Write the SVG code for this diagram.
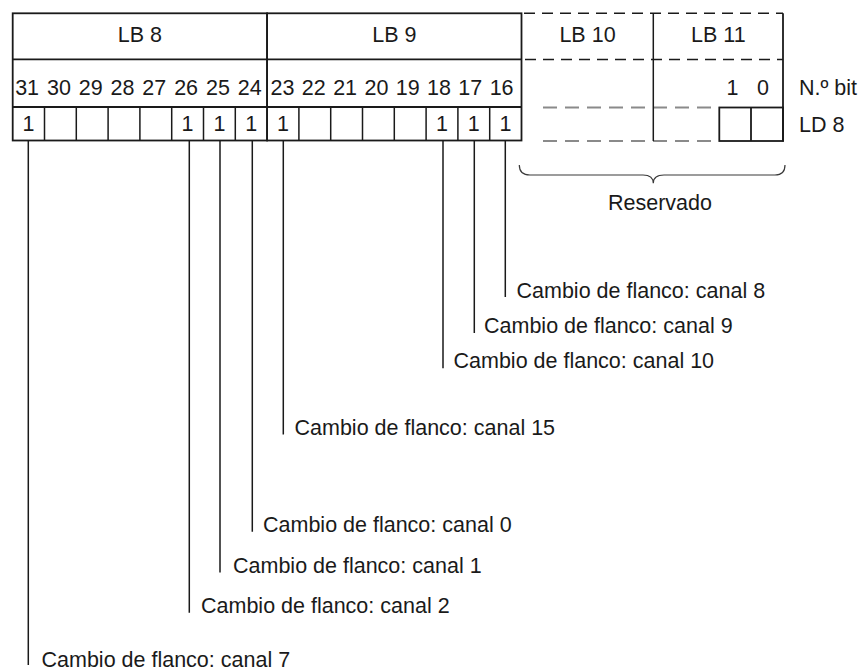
<svg xmlns="http://www.w3.org/2000/svg" width="859" height="671" viewBox="0 0 859 671">
<style>
text{font-family:"Liberation Sans",Arial,sans-serif;font-size:21.5px;fill:#1a1a1a}
.m{text-anchor:middle}
.ln{stroke:#1a1a1a;stroke-width:1.8;fill:none}
.cl{stroke:#1a1a1a;stroke-width:1.5;fill:none}
.dk{stroke:#1a1a1a;stroke-width:1.5;fill:none;stroke-dasharray:11 7}
.gr{stroke:#8a8a8a;stroke-width:1.8;fill:none;stroke-dasharray:14 8}
.ld{stroke:#1a1a1a;stroke-width:1.5;fill:none}
</style>
<rect width="859" height="671" fill="#fff"/>
<g id="lb8">
<rect class="ln" x="12.7" y="13.3" width="254.4" height="127.2"/>
<line class="ln" x1="12.7" y1="59.3" x2="267.1" y2="59.3"/>
<line class="ln" x1="12.7" y1="107" x2="267.1" y2="107"/>
<path class="cl" d="M44.5,107V140.5M76.3,107V140.5M108.1,107V140.5M139.9,107V140.5M171.7,107V140.5M203.5,107V140.5M235.3,107V140.5"/>
<text class="m" x="139.9" y="41.7">LB 8</text>
<text class="m" x="27.1" y="95">31</text>
<text class="m" x="58.9" y="95">30</text>
<text class="m" x="90.7" y="95">29</text>
<text class="m" x="122.5" y="95">28</text>
<text class="m" x="154.3" y="95">27</text>
<text class="m" x="186.1" y="95">26</text>
<text class="m" x="217.9" y="95">25</text>
<text class="m" x="249.7" y="95">24</text>
<text class="m" x="28.6" y="130.5">1</text>
<text class="m" x="187.6" y="130.5">1</text>
<text class="m" x="219.4" y="130.5">1</text>
<text class="m" x="251.2" y="130.5">1</text>
</g>
<g id="lb9">
<rect class="ln" x="267.1" y="13.3" width="254.4" height="127.2"/>
<line class="ln" x1="267.1" y1="59.3" x2="521.5" y2="59.3"/>
<line class="ln" x1="267.1" y1="107" x2="521.5" y2="107"/>
<path class="cl" d="M298.9,107V140.5M330.7,107V140.5M362.5,107V140.5M394.3,107V140.5M426.1,107V140.5M457.9,107V140.5M489.7,107V140.5"/>
<text class="m" x="394.3" y="41.7">LB 9</text>
<text class="m" x="282.5" y="95">23</text>
<text class="m" x="313.8" y="95">22</text>
<text class="m" x="345.1" y="95">21</text>
<text class="m" x="376.4" y="95">20</text>
<text class="m" x="407.7" y="95">19</text>
<text class="m" x="439" y="95">18</text>
<text class="m" x="470.3" y="95">17</text>
<text class="m" x="501.6" y="95">16</text>
<text class="m" x="283" y="130.5">1</text>
<text class="m" x="442" y="130.5">1</text>
<text class="m" x="473.8" y="130.5">1</text>
<text class="m" x="505.6" y="130.5">1</text>
</g>
<g id="lb10-lb11">
<line class="dk" x1="524" y1="13.3" x2="783" y2="13.3"/>
<line class="dk" x1="525" y1="59.5" x2="783" y2="59.5"/>
<line class="gr" x1="543" y1="107.5" x2="719.3" y2="107.5"/>
<line class="gr" x1="543" y1="141" x2="719.3" y2="141"/>
<line class="cl" x1="653.3" y1="13.3" x2="653.3" y2="141"/>
<line class="ln" x1="783" y1="13.3" x2="783" y2="141.5"/>
<text class="m" x="587.5" y="41.7">LB 10</text>
<text class="m" x="718.3" y="41.7">LB 11</text>
</g>
<g id="ld8">
<rect class="ln" x="719.3" y="107.5" width="63.7" height="33.5"/>
<line class="ln" x1="751" y1="107.5" x2="751" y2="141"/>
<text class="m" x="732.5" y="95">1</text>
<text class="m" x="763" y="95">0</text>
<text x="799" y="95">N.º bit</text>
<text x="799" y="131.7">LD 8</text>
</g>
<g id="reservado">
<path d="M519.3,165Q519.3,175 530,175L643,175Q653.3,175 653.3,183.3Q653.3,175 664,175L775,175Q785,175 785,165" fill="none" stroke="#3a3a3a" stroke-width="1.2"/>
<text class="m" x="660" y="210">Reservado</text>
</g>
<g id="connectors">
<path class="ld" d="M505.3,140.5V297M474.3,140.5V333M443,140.5V368.3M283.3,140.5V434.5M252.3,140.5V531.7M220,140.5V572.5M189.3,140.5V612.7M28.3,140.5V665"/>
</g>
<g id="labels">
<text x="516.5" y="297.5">Cambio de flanco: canal 8</text>
<text x="484" y="333.3">Cambio de flanco: canal 9</text>
<text x="453.5" y="368.3">Cambio de flanco: canal 10</text>
<text x="294.5" y="435">Cambio de flanco: canal 15</text>
<text x="263" y="531.7">Cambio de flanco: canal 0</text>
<text x="233" y="573">Cambio de flanco: canal 1</text>
<text x="201" y="612.7">Cambio de flanco: canal 2</text>
<text x="41.5" y="666.5">Cambio de flanco: canal 7</text>
</g>
</svg>
